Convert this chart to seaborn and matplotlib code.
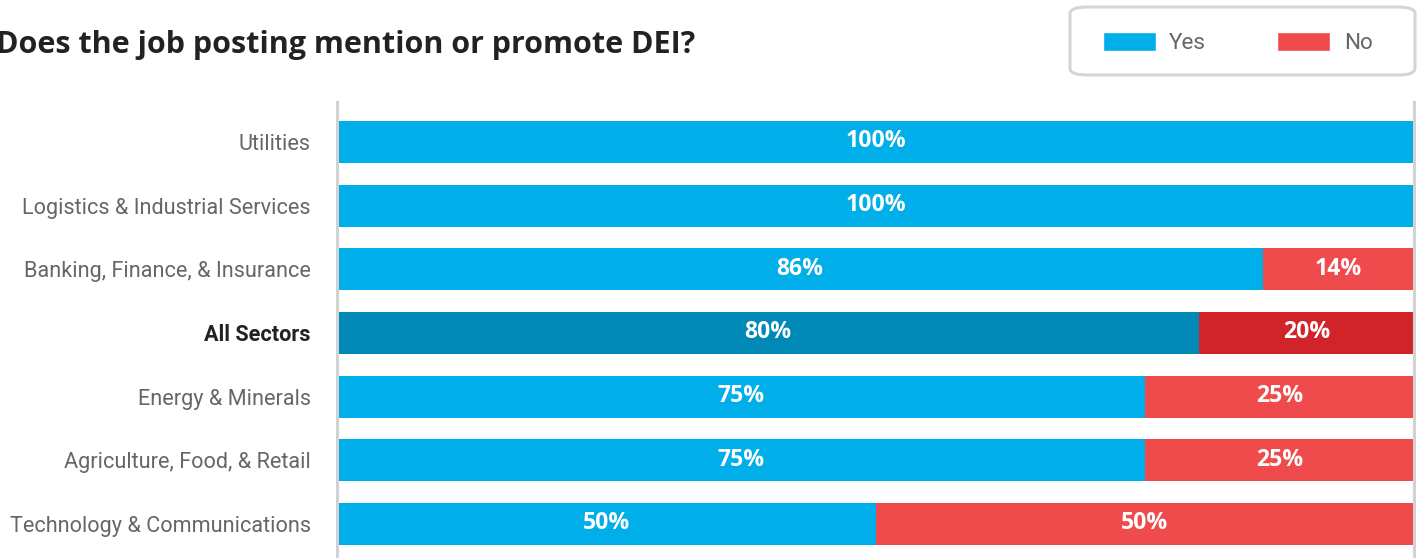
import matplotlib
matplotlib.use("Agg")
import matplotlib.pyplot as plt
import seaborn as sns
import pandas as pd
from matplotlib.patches import Patch, FancyBboxPatch

categories = ["Utilities", "Logistics & Industrial Services", "Banking, Finance, & Insurance",
              "All Sectors", "Energy & Minerals", "Agriculture, Food, & Retail",
              "Technology & Communications"]
yes_vals = [100, 100, 86, 80, 75, 75, 50]
no_vals = [0, 0, 14, 20, 25, 25, 50]
title = "Does the job posting mention or promote DEI?"
highlight = "All Sectors"

BLUE, DBLUE = "#00AEEA", "#0088B6"
RED, DRED = "#EF4B4D", "#D0232A"

sns.set_theme(style="white")
plt.rcParams["font.family"] = ["Roboto", "DejaVu Sans"]

df = pd.DataFrame({"cat": categories, "yes": yes_vals, "no": no_vals})
df["total"] = df["yes"] + df["no"]

W, H = 1421, 558
fig = plt.figure(figsize=(W / 100, H / 100), dpi=100)
ax = fig.add_axes([337 / W, 0, (1414 - 337) / W, 1 - 102 / H])

red_pal = {c: (DRED if c == highlight else RED) for c in categories}
blue_pal = {c: (DBLUE if c == highlight else BLUE) for c in categories}
sns.barplot(data=df, y="cat", x="total", hue="cat", palette=red_pal, order=categories,
            width=0.66, legend=False, ax=ax, saturation=1, linewidth=0)
sns.barplot(data=df, y="cat", x="yes", hue="cat", palette=blue_pal, order=categories,
            width=0.66, legend=False, ax=ax, saturation=1, linewidth=0)

ax.set_xlim(0, 100)
ax.set_ylim(6.534, -0.628)
ax.set_xlabel("")
ax.set_ylabel("")
ax.set_xticks([])
for s in ["top", "bottom"]:
    ax.spines[s].set_visible(False)
for s in ["left", "right"]:
    ax.spines[s].set_color("#d2d2d2")
    ax.spines[s].set_linewidth(2.2)

ax.tick_params(axis="y", length=0, pad=19)
for lbl in ax.get_yticklabels():
    lbl.set_fontsize(15.6)
    if lbl.get_text() == highlight:
        lbl.set_fontweight("bold")
        lbl.set_color("#222222")
    else:
        lbl.set_color("#666666")

vfont = dict(family=["Open Sans", "DejaVu Sans"], fontweight="bold", fontsize=16.6, color="white",
             ha="center", va="center")
for i, (y, n) in enumerate(zip(yes_vals, no_vals)):
    if y > 0:
        ax.text(y / 2, i - 0.01, f"{y}%", **vfont)
    if n > 0:
        ax.text(y + n / 2, i - 0.01, f"{n}%", **vfont)

fig.text(-4 / W, 1 - 45 / H, title, fontsize=22, fontweight="bold",
         family=["Open Sans", "DejaVu Sans"], color="#222222", va="center", ha="left")

# legend box
box = FancyBboxPatch((1070 / W, 1 - 75 / H), (1415 - 1070) / W, (75 - 7) / H,
                     boxstyle="round,pad=0,rounding_size=0.012", transform=fig.transFigure,
                     facecolor="white", edgecolor="#d5d5d5", linewidth=2.2, zorder=1)
fig.add_artist(box)
handles = [Patch(facecolor=BLUE, label="Yes"), Patch(facecolor=RED, label="No")]
leg = fig.legend(handles=handles, loc="center left", bbox_to_anchor=(1103 / W, 1 - 43 / H),
                 ncol=2, frameon=False, fontsize=16.2, handlelength=2.35,
                 handleheight=0.92, handletextpad=0.6, columnspacing=3.15, borderpad=0,
                 borderaxespad=0, labelcolor="#666666")
leg.set_zorder(3)

fig.savefig("out.png", dpi=100)
